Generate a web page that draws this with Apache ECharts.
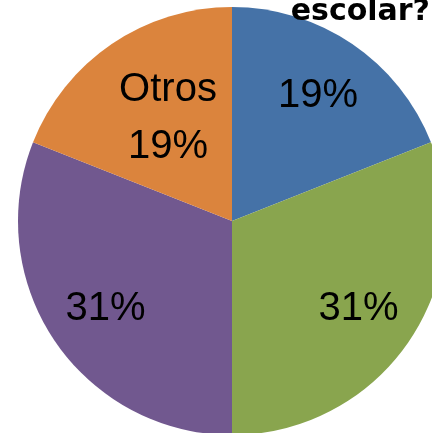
<!DOCTYPE html>
<html>
<head>
<meta charset="utf-8">
<script src="https://cdn.jsdelivr.net/npm/echarts@6/dist/echarts.min.js"></script>
<style>
html,body{margin:0;padding:0;background:#fff;}
#chart{width:432px;height:433px;}
</style>
</head>
<body>
<div id="chart"></div>
<script>
// Data
var sliceValues = [19, 31, 31, 19];
var sliceLabels = ["", "", "", "Otros"];
var sliceColors = ["#4572A7", "#89A54E", "#71588F", "#DB843D"];
var titleText = "escolar?";

var chart = echarts.init(document.getElementById('chart'), null, {renderer: 'canvas'});

var mainData = sliceValues.map(function (v, i) {
  return { value: v, name: 's' + i, itemStyle: { color: sliceColors[i] } };
});
var labelData = sliceValues.map(function (v, i) {
  var item = { value: v, name: 's' + i };
  if (sliceLabels[i]) {
    item.label = { offset: [22, 24] };
  }
  return item;
});

var option = {
  animation: false,
  title: {
    text: titleText,
    right: 2,
    top: -3,
    padding: 0,
    textStyle: {
      fontFamily: 'DejaVu Sans',
      fontWeight: 'bold',
      fontSize: 30,
      color: '#000'
    }
  },
  series: [
    {
      type: 'pie',
      center: [232, 221],
      radius: [0, 214],
      startAngle: 90,
      clockwise: true,
      silent: true,
      label: { show: false },
      labelLine: { show: false },
      data: mainData
    },
    {
      type: 'pie',
      center: [232, 221],
      radius: [94, 206],
      startAngle: 90,
      clockwise: true,
      silent: true,
      itemStyle: { color: 'rgba(0,0,0,0)' },
      labelLine: { show: false },
      label: {
        show: true,
        position: 'inside',
        offset: [0, 2],
        fontFamily: 'Liberation Sans',
        fontSize: 40,
        lineHeight: 57,
        color: '#000',
        formatter: function (p) {
          var n = sliceLabels[p.dataIndex];
          return (n ? n + '\n' : '') + Math.round(p.percent) + '%';
        }
      },
      data: labelData
    }
  ]
};
chart.setOption(option);
</script>
</body>
</html>
